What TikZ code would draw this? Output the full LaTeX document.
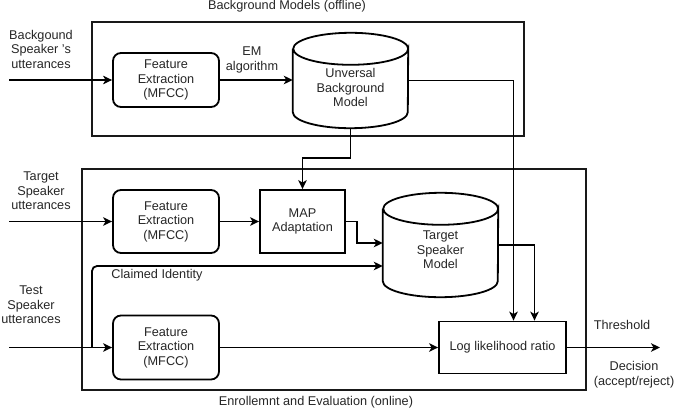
\documentclass[tikz,border=0pt]{standalone}
\usepackage{fontspec}
\setmainfont{Liberation Sans}
\usetikzlibrary{arrows.meta,calc}
\newcommand{\drawcyl}[1]{%
  \draw[line width=1.8pt]
    ($(#1.north west)+(0,16)$) -- ($(#1.south west)+(0,-16)$)
    arc[start angle=180,end angle=0,x radius=57.5,y radius=16]
    -- ($(#1.north east)+(0,16)$)
    arc[start angle=0,end angle=360,x radius=57.5,y radius=16];}
\begin{document}
\begin{tikzpicture}[x=1pt,y=-1pt,
  font=\fontsize{12.7}{14.5}\selectfont,
  every node/.style={text=black!85},
  arr/.style={line width=1.8pt,-{Stealth[length=9pt,width=8.5pt,inset=2.5pt]}},
  framebox/.style={draw=black!90,line width=1.8pt,inner sep=0pt},
  febox/.style={draw,line width=1.8pt,rounded corners=8pt,minimum width=106pt,inner sep=0pt,align=center},
  plainbox/.style={draw,line width=1.8pt,inner sep=0pt,align=center},
  cylbox/.style={inner sep=0pt,minimum width=115pt},
  lbl/.style={inner sep=0pt,align=center}
]
\useasboundingbox (0,0) rectangle (675,415);

% frames
\node[framebox,minimum width=432pt,minimum height=114pt] (bgframe) at (308,79) {};
\node[framebox,minimum width=504pt,minimum height=221pt] (enframe) at (334,279.5) {};
\node[lbl] (bgtitle) at (287,6) {Background Models (offline)};
\node[lbl] (entitle) at (316,402) {Enrollemnt and Evaluation (online)};

% boxes
\node[febox,minimum height=54pt] (fe1) at (166,80) {Feature\\Extraction\\(MFCC)};
\node[febox,minimum height=63pt] (fe2) at (166,221.5) {Feature\\Extraction\\(MFCC)};
\node[febox,minimum height=64pt] (fe3) at (166,347.5) {Feature\\Extraction\\(MFCC)};
\node[plainbox,minimum width=85pt,minimum height=63pt] (map) at (302.5,221.5) {MAP\\Adaptation};
\node[plainbox,minimum width=127pt,minimum height=52pt] (llr) at (502.5,347.5) {Log likelihood ratio};

\node[cylbox,minimum height=95pt] (ubm) at (350.5,80.5) {};
\node[cylbox,minimum height=104pt] (tsm) at (440.5,245) {};
\drawcyl{ubm}
\drawcyl{tsm}
\node[lbl] (ubmtext) at (350.5,87.5) {Unversal\\Background\\Model};
\node[lbl] (tsmtext) at (440.5,250) {Target\\Speaker\\Model};

% outside labels
\node[lbl] (bgin) at (41,49) {Backgound\\Speaker 's\\utterances};
\node[lbl] (tgin) at (41,191) {Target\\Speaker\\utterances};
\node[lbl] (tsin) at (31,305) {Test\\Speaker\\utterances};
\node[lbl] (em) at (252,60) {EM\\algorithm};
\node[lbl] (claimed) at (157,275) {Claimed Identity};
\node[lbl] (thr) at (622,325) {Threshold};
\node[lbl] (dec) at (634,374.5) {Decision\\(accept/reject)};

% coordinates
\coordinate (in1) at (9,80);
\coordinate (in2) at (9,221.5);
\coordinate (in3) at (9,347.5);
\coordinate (split) at (92,347.5);
\coordinate (out) at (660,347.5);

% connectors
\draw[arr] (in1) -- (fe1.west);
\draw[arr] (fe1.east) -- (fe1.east -| ubm.west);
\draw[arr] (ubm.south) -- ++(0,30) -| (map.north);
\draw[arr] (ubm.east) -| ($(llr.north)+(11,0)$);
\draw[arr] (in2) -- (fe2.west);
\draw[arr] (fe2.east) -- (map.west);
\draw[arr] (map.east) -- ++(11,0) |- ($(tsm.west)+(0,-2)$);
\draw[arr] (tsm.east) -| ($(llr.north)+(32,0)$);
\draw[arr] (in3) -- (fe3.west);
\draw[arr,rounded corners=5pt] (split) |- ($(tsm.west)+(0,21)$);
\draw[arr] (fe3.east) -- (llr.west);
\draw[arr] (llr.east) -- (out);
\end{tikzpicture}
\end{document}
